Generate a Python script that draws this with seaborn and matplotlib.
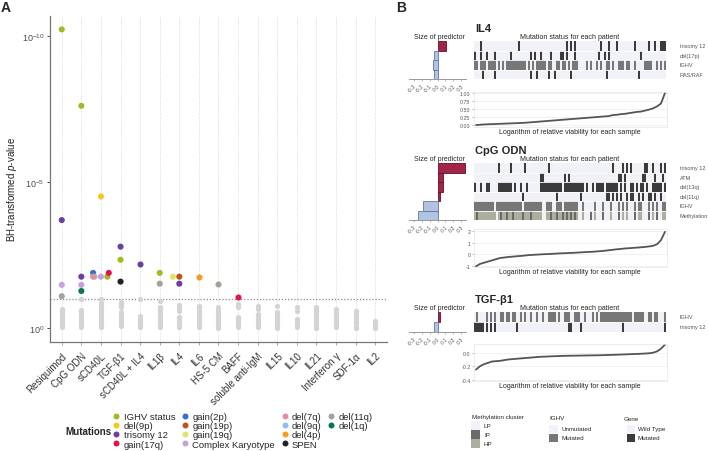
import numpy as np
import pandas as pd
import matplotlib
matplotlib.use("Agg")
import matplotlib.pyplot as plt
from matplotlib.colors import ListedColormap
from matplotlib.lines import Line2D
from matplotlib.patches import Rectangle
from matplotlib.ticker import FixedLocator, LogFormatterSciNotation, NullLocator
import seaborn as sns

# ======================= DATA: panel A =======================
STIMULI = ["Resiquimod", "CpG ODN", "sCD40L", "TGF-β1", "sCD40L + IL4", "IL1β", "IL4", "IL6",
           "HS-5 CM", "BAFF", "soluble anti-IgM", "IL15", "IL10", "IL21", "Interferon γ",
           "SDF-1α", "IL2"]

MUTATIONS = ["IGHV status", "del(9p)", "trisomy 12", "gain(17q)", "gain(2p)", "gain(19p)",
             "gain(19q)", "Complex Karyotype", "del(7q)", "del(9q)", "del(4p)", "SPEN",
             "del(11q)", "del(1q)"]
MUT_COLORS = ["#9DBE23", "#F5C61F", "#6B3FA0", "#E3134B", "#3670C4", "#B8561C",
              "#DCE46B", "#C8A0DC", "#E48D9B", "#8EBFEA", "#F59D1B", "#222222",
              "#A3A298", "#06774F"]

# significant associations: stimulus, mutation, -log10(BH p)
SIG_STIM = ["Resiquimod", "Resiquimod", "Resiquimod", "Resiquimod",
            "CpG ODN", "CpG ODN", "CpG ODN", "CpG ODN",
            "sCD40L", "sCD40L", "sCD40L", "sCD40L", "sCD40L", "sCD40L", "sCD40L",
            "TGF-β1", "TGF-β1", "TGF-β1",
            "sCD40L + IL4", "IL1β", "IL1β", "IL4", "IL4", "IL4", "IL6", "HS-5 CM", "BAFF"]
SIG_MUT = ["IGHV status", "trisomy 12", "Complex Karyotype", "del(11q)",
           "IGHV status", "trisomy 12", "Complex Karyotype", "del(1q)",
           "del(9p)", "gain(2p)", "del(9q)", "Complex Karyotype", "del(7q)", "IGHV status", "gain(17q)",
           "trisomy 12", "IGHV status", "SPEN",
           "trisomy 12", "IGHV status", "del(11q)", "gain(19p)", "gain(19q)", "trisomy 12",
           "del(4p)", "del(11q)", "gain(17q)"]
SIG_MLOGP = [10.24, 3.70, 1.48, 1.09,
             7.62, 1.76, 1.48, 1.27,
             4.51, 1.89, 1.76, 1.76, 1.76, 1.76, 1.89,
             2.79, 2.34, 1.59,
             2.21, 1.89, 1.52, 1.76, 1.76, 1.52, 1.76, 1.52, 1.05]

# non-significant tests (grey), -log10(BH p) per stimulus
NS_MLOGP = [
    [0.64, 0.58, 0.52, 0.45, 0.38, 0.30, 0.22, 0.15, 0.08, 0.02],
    [0.98, 0.62, 0.55, 0.45, 0.34, 0.26, 0.18, 0.10, 0.03],
    [1.00, 0.86, 0.78, 0.70, 0.60, 0.48, 0.38, 0.28, 0.18, 0.10, 0.02],
    [0.89, 0.80, 0.72, 0.55, 0.45, 0.35, 0.25, 0.15, 0.06],
    [0.98, 0.41, 0.32, 0.24, 0.16, 0.08, 0.02],
    [0.94, 0.72, 0.65, 0.56, 0.47, 0.38, 0.28, 0.18, 0.09, 0.02],
    [0.78, 0.68, 0.58, 0.38, 0.28, 0.18, 0.09, 0.02],
    [0.76, 0.68, 0.60, 0.50, 0.40, 0.30, 0.20, 0.10, 0.02],
    [0.72, 0.64, 0.55, 0.46, 0.36, 0.26, 0.16, 0.07, 0.00],
    [0.82, 0.72, 0.38, 0.28, 0.18, 0.09, 0.02],
    [0.76, 0.66, 0.48, 0.40, 0.30, 0.20, 0.10, 0.02],
    [0.76, 0.55, 0.46, 0.36, 0.26, 0.16, 0.07, 0.00],
    [0.72, 0.58, 0.30, 0.20, 0.10, 0.02],
    [0.72, 0.64, 0.55, 0.46, 0.36, 0.26, 0.16, 0.07, 0.00],
    [0.65, 0.55, 0.48, 0.38, 0.28, 0.18, 0.09, 0.02],
    [0.58, 0.50, 0.42, 0.34, 0.25, 0.16, 0.07, 0.00],
    [0.24, 0.16, 0.08, 0.02, 0.00],
]
THRESHOLD_P = 0.1

# ======================= DATA: panel B =======================
N_PATIENTS = 96

IL4_FEATURES = ["trisomy 12", "del(17p)", "IGHV", "RAS/RAF"]
IL4_COEF = [0.11, -0.05, -0.055, -0.05]
IL4_TRI12 = [(3, 3), (22, 22), (46, 46), (48, 48), (50, 50), (63, 63), (67, 67), (71, 71),
             (80, 80), (87, 87), (90, 90), (93, 95)]
IL4_DEL17P = [(0, 0), (3, 3), (6, 6), (10, 10), (18, 18), (28, 28), (30, 30), (33, 33), (38, 38),
              (43, 44), (46, 46), (50, 50), (62, 62), (65, 65), (67, 67), (83, 83)]
IL4_IGHV = [(0, 1), (3, 5), (7, 10), (12, 12), (14, 14), (16, 25), (27, 27), (29, 29), (31, 35),
            (37, 38), (41, 42), (44, 45), (47, 47), (49, 51), (56, 56), (58, 58), (61, 61),
            (63, 63), (66, 67), (69, 69), (72, 74), (76, 77), (80, 80), (85, 88), (91, 91),
            (93, 93), (95, 95)]
IL4_RAS = [(4, 4), (10, 10), (28, 28), (31, 31), (37, 37), (40, 40), (48, 48), (66, 66), (82, 82)]
IL4_VIAB = [0.00, 0.01, 0.02, 0.025, 0.03, 0.035, 0.04, 0.045, 0.05, 0.055, 0.06, 0.065, 0.07,
            0.08, 0.09, 0.10, 0.11, 0.12, 0.13, 0.14, 0.15, 0.16, 0.17, 0.18, 0.19, 0.20, 0.21,
            0.22, 0.23, 0.24, 0.25, 0.26, 0.27, 0.28, 0.31, 0.32, 0.34, 0.35, 0.37, 0.39, 0.41,
            0.42, 0.45, 0.48, 0.52, 0.58, 0.67, 1.00]

CPG_FEATURES = ["trisomy 12", "ATM", "del(13q)", "del(11q)", "IGHV", "Methylation"]
CPG_COEF = [0.35, 0.075, 0.067, 0.034, -0.18, -0.25]
CPG_TRI12 = [(12, 12), (18, 18), (25, 25), (37, 37), (69, 69), (74, 74), (76, 76), (78, 78),
             (85, 86), (89, 89), (93, 93), (95, 95)]
CPG_ATM = [(33, 34), (45, 45), (47, 47), (72, 73), (75, 75), (84, 85), (90, 90), (94, 94)]
CPG_DEL13Q = [(0, 0), (3, 3), (6, 7), (12, 18), (20, 20), (23, 23), (26, 26), (33, 43), (45, 54),
              (56, 56), (59, 59), (61, 64), (66, 71), (73, 73), (75, 75), (78, 79), (81, 81),
              (83, 84), (86, 86), (89, 93), (95, 95)]
CPG_DEL11Q = [(24, 24), (41, 41), (53, 53), (66, 67), (69, 69), (71, 71), (73, 73), (76, 76),
              (78, 79), (82, 82), (84, 84), (87, 88), (90, 90), (93, 93)]
CPG_IGHV = [(0, 9), (11, 23), (25, 33), (36, 38), (41, 43), (45, 51), (54, 54), (60, 60),
            (64, 64), (68, 68), (72, 72), (74, 74), (76, 76), (80, 80), (82, 83), (87, 87),
            (89, 89), (91, 91), (94, 95)]
CPG_METH_HP = [(0, 10), (12, 33), (36, 51), (54, 54), (60, 60), (68, 68), (74, 74), (76, 76),
               (82, 83), (89, 89), (94, 95)]
CPG_METH_IP = [(1, 1), (13, 13), (16, 16), (19, 19), (24, 24), (28, 28), (38, 38), (41, 41),
               (44, 44), (46, 46), (48, 48), (50, 50), (58, 58), (64, 64), (72, 72), (80, 80),
               (87, 87), (91, 91)]
CPG_VIAB = [-1.0, -0.8, -0.7, -0.6, -0.5, -0.4, -0.3, -0.26, -0.22, -0.19, -0.16, -0.13, -0.10,
            -0.06, -0.04, -0.02, 0.0, 0.02, 0.03, 0.05, 0.07, 0.09, 0.10, 0.12, 0.13, 0.15, 0.17,
            0.19, 0.21, 0.22, 0.25, 0.28, 0.31, 0.35, 0.39, 0.43, 0.46, 0.50, 0.52, 0.55, 0.57,
            0.60, 0.63, 0.67, 0.72, 0.85, 1.2, 1.9]

TGF_FEATURES = ["IGHV", "trisomy 12"]
TGF_COEF = [0.035, -0.045]
TGF_IGHV = [(1, 1), (6, 6), (8, 8), (10, 10), (13, 14), (16, 17), (19, 20), (23, 23), (25, 25),
            (28, 28), (31, 31), (34, 34), (37, 40), (42, 42), (45, 47), (50, 52), (55, 55),
            (59, 59), (61, 61), (63, 78), (80, 84), (87, 88), (90, 91), (95, 95)]
TGF_TRI12 = [(0, 4), (6, 6), (8, 8), (10, 10), (21, 21), (47, 48), (53, 53), (74, 74), (95, 95)]
TGF_VIAB = [-0.25, -0.20, -0.17, -0.15, -0.13, -0.125, -0.12, -0.11, -0.10, -0.095, -0.09,
            -0.085, -0.08, -0.075, -0.07, -0.065, -0.06, -0.058, -0.055, -0.053, -0.05, -0.048,
            -0.046, -0.045, -0.044, -0.043, -0.042, -0.041, -0.04, -0.039, -0.038, -0.037,
            -0.035, -0.033, -0.031, -0.029, -0.027, -0.025, -0.022, -0.02, -0.018, -0.015,
            -0.012, -0.008, 0.0, 0.02, 0.06, 0.12]

# ======================= STYLE =======================
W, H = 708, 452
sns.set_style("white")
plt.rcParams["font.family"] = ["Liberation Sans", "DejaVu Sans"]
plt.rcParams["mathtext.fontset"] = "custom"
plt.rcParams["mathtext.rm"] = "Liberation Sans"
plt.rcParams["mathtext.it"] = "Liberation Sans:italic"
plt.rcParams["mathtext.bf"] = "Liberation Sans:bold"

RED, RED_EDGE = "#B3123F", "#6E0A25"
BLUE, BLUE_EDGE = "#A9C1E8", "#5C78AE"
CODE_COLORS = ["#F1F2F8", "#3B3B3B", "#777777", "#6A6A6A", "#ADAF9E"]

fig = plt.figure(figsize=(W / 100, H / 100), dpi=100)


def fbox(x0, y0, x1, y1):
    return [x0 / W, 1 - y1 / H, (x1 - x0) / W, (y1 - y0) / H]


def ftxt(x, y, s, **kw):
    fig.text(x / W, 1 - y / H, s, **kw)


# ======================= PANEL A =======================
axA = fig.add_axes(fbox(50, 17, 387, 343))
axA.set_yscale("log")
axA.set_ylim(10 ** 0.48, 10 ** -10.7)
axA.set_xlim(-0.6, 16.6)

ns_df = pd.DataFrame({
    "stimulus": [s for s, vals in zip(STIMULI, NS_MLOGP) for _ in vals],
    "p": [10.0 ** -v for vals in NS_MLOGP for v in vals],
})
sig_df = pd.DataFrame({"stimulus": SIG_STIM, "mutation": SIG_MUT,
                       "p": [10.0 ** -v for v in SIG_MLOGP]})
palette = dict(zip(MUTATIONS, MUT_COLORS))

sns.stripplot(data=ns_df, x="stimulus", y="p", order=STIMULI, jitter=False,
              color="#D4D4D4", size=3.8, linewidth=0, ax=axA, zorder=2)
sns.swarmplot(data=sig_df, x="stimulus", y="p", hue="mutation", order=STIMULI,
              hue_order=MUTATIONS, palette=palette, size=4.4, linewidth=0,
              legend=False, ax=axA, zorder=3)

axA.set_xlim(-0.6, 16.6)
axA.set_ylim(10 ** 0.48, 10 ** -10.7)
axA.axhline(THRESHOLD_P, color="#8A8A8A", ls=(0, (1, 1.5)), lw=0.9, zorder=1)
axA.xaxis.grid(True, color="#D8D8D8", ls=(0, (1, 1.5)), lw=0.7)
axA.yaxis.grid(False)
axA.set_axisbelow(True)
for s in ["top", "right"]:
    axA.spines[s].set_visible(False)
for s in ["left", "bottom"]:
    axA.spines[s].set_color("#777777")
    axA.spines[s].set_linewidth(0.9)
axA.yaxis.set_major_locator(FixedLocator([1e-10, 1e-5, 1]))
axA.yaxis.set_major_formatter(LogFormatterSciNotation())
axA.yaxis.set_minor_locator(NullLocator())
axA.tick_params(axis="y", labelsize=6.5, colors="#4D4D4D", length=2.5, width=0.7, left=True,
                pad=1.5)
axA.tick_params(axis="x", labelsize=7, color="#999999", labelcolor="#333333", length=2.5,
                width=0.6, bottom=True)
for lbl in axA.get_xticklabels():
    lbl.set_rotation(45)
    lbl.set_ha("right")
    lbl.set_va("top")
    lbl.set_rotation_mode("anchor")
axA.set_xlabel("")
axA.set_ylabel("BH-transformed $\\it{p}$-value", fontsize=7, color="#222222")
axA.yaxis.set_label_coords(-0.092, 0.47)

handles = [Line2D([], [], marker="o", ls="", color=c, markersize=4.3, markeredgewidth=0)
           for c in MUT_COLORS]
blank = Line2D([], [], ls="", marker="")
fig.legend(handles + [blank, blank], MUTATIONS + ["", ""], loc="upper left",
           bbox_to_anchor=(112 / W, 1 - 413 / H),
           ncol=4, frameon=False, fontsize=6.8, handlelength=0.9, handletextpad=0.35,
           columnspacing=0.55, labelspacing=0.02, borderpad=0, borderaxespad=0)
ftxt(65, 432, "Mutations", fontsize=7, fontweight="bold", va="center", ha="left")

ftxt(1, 8, "A", fontsize=10, fontweight="bold", va="center", ha="left")
ftxt(396, 8, "B", fontsize=10, fontweight="bold", va="center", ha="left")


# ======================= PANEL B =======================
def seg_row(segs, code, row=None):
    if row is None:
        row = np.zeros(N_PATIENTS)
    for a, b in segs:
        row[a:b + 1] = code
    return row


def draw_section(title, features, coefs, mat, viab, y_title, y0, y1, l0, l1,
                 yticks, yticklabels, ylim):
    ftxt(475, y_title, title, fontsize=8, fontweight="bold", va="center", ha="left")
    ftxt(439, y0 - 1, "Size of predictor", fontsize=5, ha="center", va="bottom")
    ftxt(570, y0 - 1, "Mutation status for each patient", fontsize=5, ha="center", va="bottom")

    # bar chart of coefficients
    axb = fig.add_axes(fbox(409, y0, 466, y1))
    dfb = pd.DataFrame({"feature": features, "coef": coefs,
                        "sign": ["pos" if c > 0 else "neg" for c in coefs]})
    sns.barplot(data=dfb, x="coef", y="feature", hue="sign", order=features,
                palette={"pos": RED, "neg": BLUE}, dodge=False, width=1.0,
                legend=False, ax=axb, orient="h", linewidth=0.6)
    for p in axb.patches:
        fc = p.get_facecolor()
        p.set_edgecolor(RED_EDGE if fc[0] > 0.6 and fc[2] < 0.5 else BLUE_EDGE)
        p.set_linewidth(0.6)
    axb.set_xlim(-0.36, 0.36)
    axb.set_ylim(len(features) - 0.5, -0.5)
    axb.set_xticks([-0.3, -0.2, -0.1, 0.0, 0.1, 0.2, 0.3])
    axb.set_xticklabels(["-0.3", "-0.2", "-0.1", "0.0", "0.1", "0.2", "0.3"])
    axb.tick_params(axis="x", labelsize=3.8, labelcolor="#555555", length=1.5, width=0.4,
                    color="#888888", bottom=True, pad=1)
    for lbl in axb.get_xticklabels():
        lbl.set_rotation(45)
        lbl.set_ha("right")
        lbl.set_rotation_mode("anchor")
    axb.set_yticks([])
    axb.set_xlabel("")
    axb.set_ylabel("")
    for s in ["top", "right", "left"]:
        axb.spines[s].set_visible(False)
    axb.spines["bottom"].set_color("#888888")
    axb.spines["bottom"].set_linewidth(0.6)
    axb.patch.set_alpha(0)

    # mutation status heatmap
    axh = fig.add_axes(fbox(474, y0, 666, y1))
    sns.heatmap(mat, ax=axh, cmap=ListedColormap(CODE_COLORS), vmin=-0.5, vmax=4.5,
                cbar=False, xticklabels=False, yticklabels=False)
    for i in range(1, len(features)):
        axh.axhline(i, color="white", lw=0.6)
    for i, f in enumerate(features):
        ftxt(680, y0 + (i + 0.5) * (y1 - y0) / len(features), f, fontsize=4,
             color="#555555", va="center", ha="left")

    # sorted viability line
    axl = fig.add_axes(fbox(474, l0, 667, l1))
    sns.lineplot(x=np.arange(len(viab)), y=viab, ax=axl, color="#555555", lw=1.3)
    axl.set_xlim(-0.5, len(viab) - 0.5)
    axl.set_ylim(*ylim)
    axl.set_xticks([])
    axl.set_yticks(yticks)
    axl.set_yticklabels(yticklabels)
    axl.tick_params(axis="y", labelsize=3.8, labelcolor="#555555", length=1.5, width=0.4,
                    color="#888888", left=True, pad=1)
    axl.yaxis.grid(True, color="#EBEBEB", lw=0.5)
    axl.xaxis.grid(False)
    axl.set_xlabel("")
    axl.set_ylabel("")
    for s in axl.spines.values():
        s.set_color("#E6E6E6")
        s.set_linewidth(0.5)
    ftxt(570, l1 + 5, "Logarithm of relative viability for each sample", fontsize=5,
         ha="center", va="center")


il4_mat = np.vstack([seg_row(IL4_TRI12, 1), seg_row(IL4_DEL17P, 1),
                     seg_row(IL4_IGHV, 2), seg_row(IL4_RAS, 1)])
cpg_meth = seg_row(CPG_METH_IP, 3, seg_row(CPG_METH_HP, 4))
cpg_mat = np.vstack([seg_row(CPG_TRI12, 1), seg_row(CPG_ATM, 1), seg_row(CPG_DEL13Q, 1),
                     seg_row(CPG_DEL11Q, 1), seg_row(CPG_IGHV, 2), cpg_meth])
tgf_mat = np.vstack([seg_row(TGF_IGHV, 2), seg_row(TGF_TRI12, 1)])

draw_section("IL4", IL4_FEATURES, IL4_COEF, il4_mat, IL4_VIAB, 29, 42, 80, 93, 128,
             [0, 0.25, 0.5, 0.75, 1.0], ["0.00", "0.25", "0.50", "0.75", "1.00"], (-0.06, 1.03))
draw_section("CpG ODN", CPG_FEATURES, CPG_COEF, cpg_mat, CPG_VIAB, 151, 164, 221, 230, 268,
             [-1, 0, 1, 2], ["-1", "0", "1", "2"], (-1.06, 2.14))
draw_section("TGF-β1", TGF_FEATURES, TGF_COEF, tgf_mat, TGF_VIAB, 300, 313, 333, 345, 382,
             [-0.4, -0.2, 0.0], ["-0.4", "-0.2", "0.0"], (-0.42, 0.13))


# ---- panel B legends ----
def swatch(x0, y0, x1, y1, color):
    fig.add_artist(Rectangle((x0 / W, 1 - y1 / H), (x1 - x0) / W, (y1 - y0) / H,
                             transform=fig.transFigure, facecolor=color, edgecolor="none"))


ftxt(472, 417, "Methylation cluster", fontsize=4.5, va="center", ha="left")
for (lab, col), yy in zip([("LP", CODE_COLORS[0]), ("IP", CODE_COLORS[3]), ("HP", CODE_COLORS[4])],
                          [422, 431, 440]):
    swatch(471, yy, 480, yy + 8.5, col)
    ftxt(484, yy + 4.3, lab, fontsize=4.5, va="center", ha="left")

ftxt(549, 419, "IGHV", fontsize=4.5, va="center", ha="left")
for (lab, col), yy in zip([("Unmutated", CODE_COLORS[0]), ("Mutated", CODE_COLORS[2])], [426, 435]):
    swatch(549, yy, 558, yy + 8, col)
    ftxt(562, yy + 4, lab, fontsize=4.5, va="center", ha="left")

ftxt(624, 420, "Gene", fontsize=4.5, va="center", ha="left")
for (lab, col), yy in zip([("Wild Type", CODE_COLORS[0]), ("Mutated", CODE_COLORS[1])], [426, 435]):
    swatch(627, yy, 635, yy + 8, col)
    ftxt(638, yy + 4, lab, fontsize=4.5, va="center", ha="left")

fig.savefig("out.png", dpi=100)
